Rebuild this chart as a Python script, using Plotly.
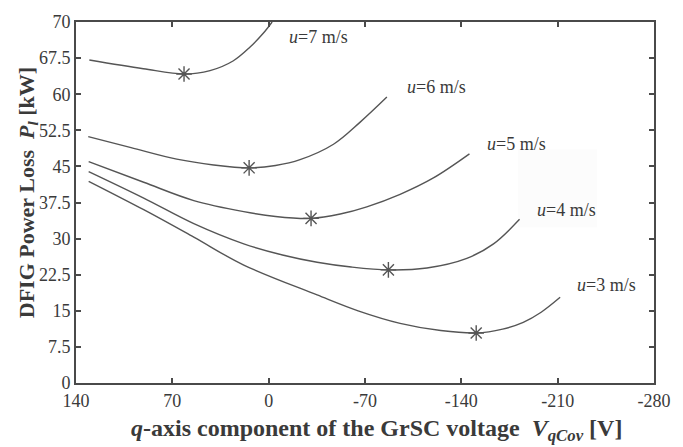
import plotly.graph_objects as go

# Data (x: V_qCov [V], y: power loss on the plotted scale)
u7_x = [130.3, 91.1, 61.5, 42.6, 25.9, 13.5, 4.1, -2.5]
u7_y = [67.1, 65.3, 64.2, 64.9, 66.9, 69.8, 72.6, 75.0]
u6_x = [131.1, 100.0, 66.8, 40.0, 14.2, -5.0, -22.8, -47.1, -66.5, -85.9]
u6_y = [51.2, 48.9, 46.5, 45.3, 44.7, 45.2, 46.4, 49.6, 54.2, 59.4]
u5_x = [130.8, 90.8, 54.4, 18.1, -5.0, -30.8, -52.0, -71.3, -95.5, -119.7, -145.9]
u5_y = [46.0, 41.7, 37.9, 35.6, 34.6, 34.2, 35.1, 36.6, 39.2, 42.6, 47.6]
u4_x = [130.8, 90.8, 54.4, 18.1, -10.0, -35.2, -60.0, -87.0, -115.0, -144.0, -163.4, -182.3]
u4_y = [43.9, 38.4, 33.1, 28.9, 26.6, 25.1, 24.1, 23.5, 23.9, 25.9, 28.9, 34.0]
u3_x = [130.8, 90.8, 54.4, 18.1, -35.2, -65.0, -95.5, -125.0, -150.8, -170.0, -185.0, -198.0, -211.8]
u3_y = [41.9, 36.0, 30.3, 24.5, 18.3, 15.0, 12.4, 10.9, 10.4, 11.2, 12.6, 14.7, 17.8]

opt_x = [61.5, 14.2, -30.8, -87.0, -150.8]
opt_y = [64.2, 44.7, 34.2, 23.5, 10.4]

labels = ["<i>u</i>=7 m/s", "<i>u</i>=6 m/s", "<i>u</i>=5 m/s", "<i>u</i>=4 m/s", "<i>u</i>=3 m/s"]
label_x = [-13.4, -99.2, -157.3, -193.7, -222.8]
label_y = [71.8, 61.5, 49.7, 36.0, 20.3]

x_ticks = [140, 70, 0, -70, -140, -210, -280]
y_ticks = [0, 7.5, 15, 22.5, 30, 37.5, 45, 52.5, 60, 67.5, 75]
y_ticktext = ["0", "7.5", "15", "22.5", "30", "37.5", "45", "52.5", "60", "67.5", "70"]

LINE = "#555555"
TEXT = "#3a3a3a"
FONT = "Liberation Serif"

fig = go.Figure()
for xs, ys in [(u7_x, u7_y), (u6_x, u6_y), (u5_x, u5_y), (u4_x, u4_y), (u3_x, u3_y)]:
    fig.add_trace(go.Scatter(x=xs, y=ys, mode="lines",
                             line=dict(color=LINE, width=1.4, shape="spline", smoothing=1.0),
                             showlegend=False, hoverinfo="skip"))
fig.add_trace(go.Scatter(x=opt_x, y=opt_y, mode="markers",
                         marker=dict(symbol="asterisk-open", size=13, color=LINE,
                                     line=dict(color=LINE, width=1.4)),
                         showlegend=False))

for t, x, y in zip(labels, label_x, label_y):
    fig.add_annotation(x=x, y=y, text=t, showarrow=False, xanchor="left", yanchor="middle",
                       font=dict(family=FONT, size=18, color=TEXT))

# faint background patch behind u=4 label
fig.add_shape(type="rect", xref="paper", yref="paper",
              x0=(518 - 76) / 578, x1=(597 - 76) / 578,
              y0=(383 - 223) / 371, y1=(383 - 143) / 371,
              fillcolor="#fcfcfc", line=dict(width=0), layer="below")

fig.add_annotation(xref="paper", yref="paper", x=(376 - 76) / 578, y=(383 - 431) / 371,
                   text="<b><i>q</i>-axis component of the GrSC voltage  <i>V<sub>qCov</sub></i> [V]</b>",
                   showarrow=False, xanchor="center", yanchor="middle",
                   font=dict(family=FONT, size=24, color=TEXT))
fig.add_annotation(xref="paper", yref="paper", x=(28 - 76) / 578, y=(383 - 188) / 371,
                   text="<b>DFIG Power Loss  <i>P<sub>l</sub></i> [kW]</b>",
                   textangle=-90, showarrow=False, xanchor="center", yanchor="middle",
                   font=dict(family=FONT, size=22, color=TEXT))

axis_common = dict(showgrid=False, zeroline=False, showline=True, linecolor="#4a4a4a",
                   linewidth=2, mirror="ticks", ticks="inside", ticklen=5, tickwidth=2,
                   tickcolor="#4a4a4a", tickfont=dict(family=FONT, size=18, color=TEXT))

fig.update_xaxes(range=[140, -280], tickvals=x_ticks,
                 ticktext=[str(v) for v in x_ticks], **axis_common)
fig.update_yaxes(range=[0, 75], tickvals=y_ticks, ticktext=y_ticktext, **axis_common)

fig.update_layout(width=683, height=447, margin=dict(l=76, r=29, t=12, b=64),
                  plot_bgcolor="white", paper_bgcolor="white",
                  font=dict(family=FONT, color=TEXT))

fig.write_html("out.html")
